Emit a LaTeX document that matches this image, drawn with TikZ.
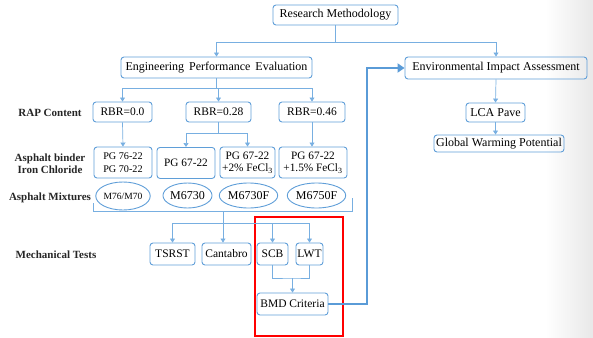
\documentclass[tikz,border=0pt]{standalone}
\usepackage{fontspec}
\setmainfont{Liberation Serif}
\newfontfamily\tnr{Liberation Serif}
\usetikzlibrary{arrows.meta,shapes.geometric}
\definecolor{boxc}{RGB}{95,158,216}
\definecolor{connc}{RGB}{120,175,225}
\definecolor{thickc}{RGB}{90,155,215}
\tikzset{
  box/.style={draw=boxc, line width=0.9pt, rounded corners=3pt, inner sep=1pt, align=center, font=\tnr\fontsize{11.5}{13}\selectfont},
  bigbox/.style={box, font=\tnr\fontsize{12}{13}\selectfont},
  smallbox/.style={box, inner sep=0.5pt, font=\tnr\fontsize{11.3}{12.5}\selectfont},
  tinybox/.style={box, font=\tnr\fontsize{10.2}{12.5}\selectfont},
  ell/.style={draw=boxc, line width=0.9pt, ellipse, inner sep=0pt, font=\tnr\fontsize{12}{13}\selectfont},
  lab/.style={font=\tnr\bfseries\fontsize{11}{12.5}\selectfont, align=center, text=black!85},
  conn/.style={draw=connc, line width=0.7pt},
  arr/.style={conn, -{Triangle[width=5pt,length=4pt]}},
  bigarr/.style={draw=thickc, line width=2.6pt, -{Triangle[width=9pt,length=7pt]}},
}
\begin{document}
\begin{tikzpicture}[x=1pt,y=-1pt]
\useasboundingbox (0,0) rectangle (593,337);
\shade[left color=white, right color=black!9] (545,0) rectangle (593,337);
% top
\node[bigbox, minimum width=125, minimum height=20] (rm) at (335.5,15) {Research Methodology};
\node[bigbox, minimum width=191, minimum height=21] (epe) at (216.5,67.5) {Engineering\, Performance\, Evaluation};
\node[bigbox, minimum width=182, minimum height=22] (eia) at (496,68) {Environmental Impact Assessment};
\node[bigbox, minimum width=59, minimum height=19] (lca) at (495.5,112.5) {LCA Pave};
\node[bigbox, minimum width=130, minimum height=17] (gwp) at (499,143.5) {Global Warming Potential};
% RBR
\node[box, minimum width=59, minimum height=20] (rbr0) at (122.5,112) {RBR=0.0};
\node[box, minimum width=65, minimum height=20] (rbr28) at (218.5,112) {RBR=0.28};
\node[box, minimum width=66, minimum height=20] (rbr46) at (312,112) {RBR=0.46};
% binders
\node[tinybox, minimum width=58, minimum height=31] (pg76) at (123,162.5) {PG 76-22\\PG 70-22};
\node[smallbox, minimum width=58, minimum height=31, anchor=north] (pg67) at (186,147) {PG 67-22};
\node[smallbox, minimum width=55, minimum height=31] (pg67f2) at (247.5,162.5) {PG 67-22\\+2\% FeCl\textsubscript{3}};
\node[smallbox, minimum width=68, minimum height=31] (pg67f15) at (313,162.5) {PG 67-22\\+1.5\% FeCl\textsubscript{3}};
% mixtures
\node[ell, minimum width=44, minimum height=28, font=\tnr\fontsize{9.5}{10}\selectfont] (m76) at (123,196) {M76/M70};
\node[ell, minimum width=41, minimum height=25] (m6730) at (187.5,195.5) {M6730};
\node[ell, minimum width=47, minimum height=25] (m6730f) at (248.5,195.5) {M6730F};
\node[ell, minimum width=47, minimum height=25] (m6750f) at (316.5,195.5) {M6750F};
% tests
\node[box, minimum width=45, minimum height=22] (tsrst) at (172.5,254) {TSRST};
\node[box, minimum width=49, minimum height=22] (cant) at (226.5,254) {Cantabro};
\node[box, minimum width=31, minimum height=22] (scb) at (272.5,254) {SCB};
\node[box, minimum width=27, minimum height=22] (lwt) at (309.5,254) {LWT};
\node[box, minimum width=71, minimum height=22] (bmd) at (292.5,304) {BMD Criteria};
% labels
\node[lab] (l1) at (50,113) {RAP Content};
\node[lab] (l2) at (50,163.5) {Asphalt binder\\Iron Chloride};
\node[lab] (l3) at (50,198) {Asphalt Mixtures};
\node[lab] (l4) at (56,255) {Mechanical Tests};
% red frame
\draw[red, line width=1.4pt] (255,217) rectangle (343,336);
% connectors top
\coordinate (j1) at (335.5,42);
\draw[conn] (rm.south) -- (j1);
\draw[arr] (j1) -| (epe.north);
\draw[arr] (j1) -| (eia.north);
\draw[arr] (eia.south) -- (lca.north);
\draw[arr] (lca.south) -- (lca.south |- gwp.north);
% epe to rbr
\coordinate (j2) at (216.5,88);
\draw[conn] (epe.south) -- (j2);
\draw[arr] (j2) -| (rbr0.north);
\draw[arr] (j2) -| (rbr46.north);
\draw[arr] (j2) -| (rbr28.north);
% rbr to binders
\draw[arr] (rbr0.south) -- (pg76.north);
\coordinate (j3) at (218.5,133);
\draw[conn] (rbr28.south) -- (j3);
\draw[arr] (j3) -| (pg67.north);
\draw[arr] (j3) -| (pg67f2.north);
\draw[arr] (rbr46.south) -- (rbr46.south |- pg67f15.north);
% bracket below mixtures
\coordinate (bl) at (93,203);
\coordinate (br) at (352,198);
\coordinate (jb) at (223,211);
\draw[conn] (bl) |- (br |- jb) -- (br);
\draw[arr] (jb) -- (jb |- cant.north);
\coordinate (j4) at (223,223);
\draw[arr] (j4) -| (tsrst.north);
\draw[arr] (j4) -| (scb.north);
\draw[arr] (j4) -| (lwt.north);
% scb/lwt to bmd
\coordinate (j5) at (292.5,278);
\draw[conn] (scb.south) |- (j5) -| (lwt.south);
\draw[arr] (j5) -- (bmd.north);
% thick arrow
\coordinate (tk) at (367,0);
\draw[bigarr] (bmd.east) -- (bmd.east -| tk) |- (eia.west);
\end{tikzpicture}
\end{document}
